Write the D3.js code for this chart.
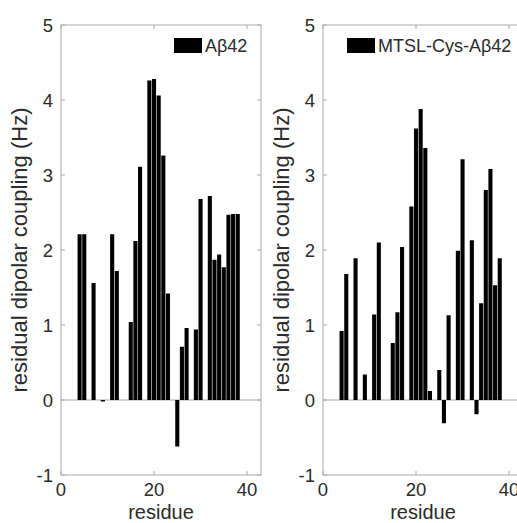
<!DOCTYPE html>
<html>
<head>
<meta charset="utf-8">
<script src="https://cdn.jsdelivr.net/npm/d3@7"></script>
<style>
  body { margin: 0; background: #fff; }
  svg { display: block; font-family: "Liberation Sans", Arial, sans-serif; }
</style>
</head>
<body>
<svg id="chart" width="517" height="523"></svg>
<script>
// residue numbers and RDC values (Hz)
const residuesA = [4, 5, 7, 9, 11, 12, 15, 16, 17, 19, 20, 21, 22, 23, 25, 26, 27, 29, 30, 32, 33, 34, 35, 36, 37, 38];
const rdcA = [2.21, 2.21, 1.56, -0.02, 2.21, 1.72, 1.04, 2.12, 3.11, 4.26, 4.28, 4.06, 3.26, 1.42, -0.62, 0.71, 0.96, 0.94, 2.68, 2.72, 1.87, 1.94, 1.77, 2.47, 2.48, 2.48];

const residuesB = [4, 5, 7, 9, 11, 12, 15, 16, 17, 19, 20, 21, 22, 23, 25, 26, 27, 29, 30, 32, 33, 34, 35, 36, 37, 38];
const rdcB = [0.92, 1.68, 1.89, 0.34, 1.14, 2.10, 0.76, 1.17, 2.04, 2.58, 3.62, 3.88, 3.36, 0.12, 0.40, -0.31, 1.13, 1.99, 3.21, 2.13, -0.19, 1.29, 2.80, 3.08, 1.53, 1.89];

const xTicks = [0, 20, 40];
const yTicks = [-1, 0, 1, 2, 3, 4, 5];
const panels = [
  { name: "Aβ42", residues: residuesA, values: rdcA, left: 61, legX: 174 },
  { name: "MTSL-Cys-Aβ42", residues: residuesB, values: rdcB, left: 323, legX: 347 }
];

const svg = d3.select("#chart");
const plotTop = 25, plotBottom = 475, plotW = 200;
const axisColor = "#aaaaaa", textColor = "#2b2b2b";
const tickLen = 4;

const y = d3.scaleLinear().domain([-1, 5]).range([plotBottom, plotTop]);

panels.forEach(p => {
  const x = d3.scaleLinear().domain([0, 43]).range([p.left, p.left + plotW]);
  const barW = (x(1) - x(0)) * 0.88;
  const g = svg.append("g");

  // box
  g.append("rect")
    .attr("x", p.left).attr("y", plotTop)
    .attr("width", plotW).attr("height", plotBottom - plotTop)
    .attr("fill", "none").attr("stroke", axisColor).attr("stroke-width", 1);

  // baseline at zero
  g.append("line")
    .attr("x1", p.left).attr("x2", p.left + plotW)
    .attr("y1", y(0)).attr("y2", y(0))
    .attr("stroke", axisColor);

  // bars
  const data = p.residues.map((r, i) => ({ r, v: p.values[i] }));
  g.selectAll("rect.bar")
    .data(data)
    .join("rect")
    .attr("class", "bar")
    .attr("x", d => x(d.r) - barW / 2)
    .attr("width", barW)
    .attr("y", d => y(Math.max(0, d.v)))
    .attr("height", d => Math.abs(y(d.v) - y(0)))
    .attr("fill", "#000");

  // inward ticks on all four sides
  xTicks.forEach(t => {
    g.append("line").attr("x1", x(t)).attr("x2", x(t))
      .attr("y1", plotBottom).attr("y2", plotBottom - tickLen).attr("stroke", axisColor);
    g.append("line").attr("x1", x(t)).attr("x2", x(t))
      .attr("y1", plotTop).attr("y2", plotTop + tickLen).attr("stroke", axisColor);
  });
  yTicks.forEach(t => {
    g.append("line").attr("x1", p.left).attr("x2", p.left + tickLen)
      .attr("y1", y(t)).attr("y2", y(t)).attr("stroke", axisColor);
    g.append("line").attr("x1", p.left + plotW).attr("x2", p.left + plotW - tickLen)
      .attr("y1", y(t)).attr("y2", y(t)).attr("stroke", axisColor);
  });

  // tick labels
  g.selectAll("text.xt")
    .data(xTicks)
    .join("text")
    .attr("class", "xt")
    .attr("x", d => x(d)).attr("y", plotBottom + 21)
    .attr("text-anchor", "middle")
    .attr("font-size", 18.5).attr("fill", textColor)
    .text(d => d);
  g.selectAll("text.yt")
    .data(yTicks)
    .join("text")
    .attr("class", "yt")
    .attr("x", p.left - 8).attr("y", d => y(d) + 7)
    .attr("text-anchor", "end")
    .attr("font-size", 18.5).attr("fill", textColor)
    .text(d => d);

  // axis labels
  g.append("text")
    .attr("x", p.left + plotW / 2).attr("y", 518.5)
    .attr("text-anchor", "middle")
    .attr("font-size", 20).attr("fill", textColor)
    .text("residue");
  g.append("text")
    .attr("transform", `translate(${p.left - 34},${(plotTop + plotBottom) / 2}) rotate(-90)`)
    .attr("text-anchor", "middle")
    .attr("font-size", 22).attr("fill", textColor)
    .text("residual dipolar coupling (Hz)");

  // legend
  g.append("rect")
    .attr("x", p.legX).attr("y", 38)
    .attr("width", 28).attr("height", 15)
    .attr("fill", "#000");
  g.append("text")
    .attr("x", p.legX + 31).attr("y", 52)
    .attr("font-size", 18).attr("fill", textColor)
    .text(p.name);
});
</script>
</body>
</html>
